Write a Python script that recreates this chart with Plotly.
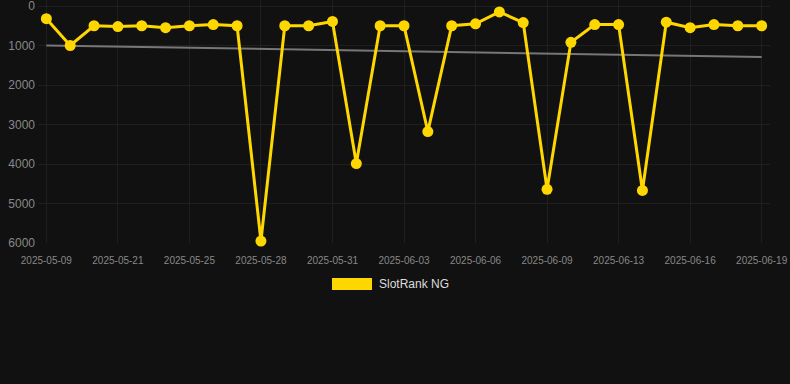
import plotly.graph_objects as go

dates = ["2025-05-09", "2025-05-19", "2025-05-20", "2025-05-21", "2025-05-22", "2025-05-24",
         "2025-05-25", "2025-05-26", "2025-05-27", "2025-05-28", "2025-05-29", "2025-05-30",
         "2025-05-31", "2025-06-01", "2025-06-02", "2025-06-03", "2025-06-04", "2025-06-05",
         "2025-06-06", "2025-06-07", "2025-06-08", "2025-06-09", "2025-06-10", "2025-06-11",
         "2025-06-13", "2025-06-14", "2025-06-15", "2025-06-16", "2025-06-17", "2025-06-18",
         "2025-06-19"]
ranks = [320, 1000, 500, 520, 500, 550, 500, 470, 500, 5950, 500, 500,
         390, 3990, 500, 500, 3180, 500, 450, 150, 420, 4640, 920, 470,
         470, 4670, 410, 550, 470, 500, 500]
trend_ends = [1000, 1290]
tick_labels = dates[::3]
y_ticks = [0, 1000, 2000, 3000, 4000, 5000, 6000]
series_name = "SlotRank NG"

fig = go.Figure()
fig.add_trace(go.Scatter(
    x=[dates[0], dates[-1]], y=trend_ends, mode="lines",
    line=dict(color="#777777", width=2), showlegend=False, hoverinfo="skip"))
fig.add_trace(go.Scatter(
    x=dates, y=ranks, mode="lines+markers", name=series_name,
    line=dict(color="#FFD700", width=3), cliponaxis=False,
    marker=dict(color="#FFD700", size=11), showlegend=False))

fig.add_shape(type="rect", xref="paper", yref="paper",
              x0=(332 - 38) / 732, x1=(372 - 38) / 732,
              y0=-(290 - 243) / 243, y1=-(278 - 243) / 243,
              fillcolor="#FFD700", line=dict(width=0))
fig.add_annotation(xref="paper", yref="paper", x=(377 - 38) / 732, y=-(284 - 243) / 243,
                   text=series_name, showarrow=False, xanchor="left", yanchor="middle",
                   font=dict(color="#dddddd", size=12, family="Liberation Sans, Arial, sans-serif"))

fig.update_layout(
    width=790, height=384, autosize=False,
    paper_bgcolor="#111111", plot_bgcolor="#111111",
    margin=dict(l=38, r=20, t=0, b=141),
    font=dict(family="Liberation Sans, Arial, sans-serif", color="#888888"),
    showlegend=False,
    xaxis=dict(type="category", categoryorder="array", categoryarray=dates,
               range=[-0.35, len(dates) - 1 + 0.35],
               tickvals=tick_labels, ticktext=tick_labels,
               showgrid=True, gridcolor="#1f1f1f", gridwidth=1,
               zeroline=False, showline=False, ticks="",
               tickfont=dict(size=10, color="#888888"), tickangle=0,
               ticklabelstandoff=10),
    yaxis=dict(range=[6000, -152], tickvals=y_ticks,
               showgrid=True, gridcolor="#1f1f1f", gridwidth=1,
               zeroline=False, showline=False, ticks="",
               ticklabeloverflow="allow",
               tickfont=dict(size=12, color="#888888"), ticklabelstandoff=2),
)

fig.write_html("out.html", config={"responsive": False, "displayModeBar": False},
               post_script="document.body.style.margin='0';document.body.style.background='#111111';document.body.style.overflow='hidden';")
